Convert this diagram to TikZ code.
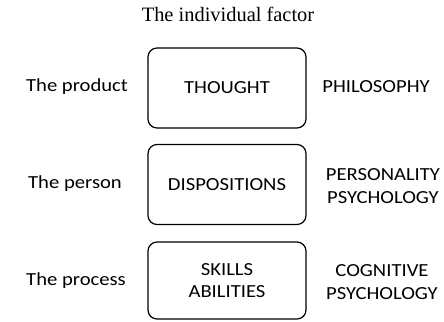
\documentclass[tikz,border=0pt]{standalone}
\usepackage{fontspec}
\setmainfont{Liberation Serif}
\setsansfont{Carlito}[FakeStretch=1.12]
\usetikzlibrary{positioning}

\tikzset{
  factorbox/.style={draw, rounded corners=9bp, line width=1.2bp, minimum width=158bp, minimum height=80bp, align=center, font=\sffamily\fontsize{18.5}{22.5}\selectfont},
  sidelabel/.style={align=center, font=\sffamily\fontsize{18.5}{22.5}\selectfont},
  titlelabel/.style={font=\fontsize{20.5}{24}\selectfont}
}

\begin{document}
\begin{tikzpicture}[x=1bp, y=-1bp]
  \useasboundingbox (0,0) rectangle (444,321);

  \node[titlelabel] (title) at (228,14) {The individual factor};

  \node[factorbox] (thought) at (227,88) {THOUGHT};
  \node[factorbox] (disp) at (227,184.5) {DISPOSITIONS};
  \node[factorbox, minimum height=77bp] (skills) at (227,280.5) {SKILLS\\ABILITIES};

  \node[sidelabel] (product) at (77,87) {The product};
  \node[sidelabel] (person) at (75,184) {The person};
  \node[sidelabel] (process) at (76,281) {The process};

  \node[sidelabel] (philo) at (376,87) {PHILOSOPHY};
  \node[sidelabel] (perso) at (383,186) {PERSONALITY\\PSYCHOLOGY};
  \node[sidelabel] (cogni) at (382,282) {COGNITIVE\\PSYCHOLOGY};
\end{tikzpicture}
\end{document}
